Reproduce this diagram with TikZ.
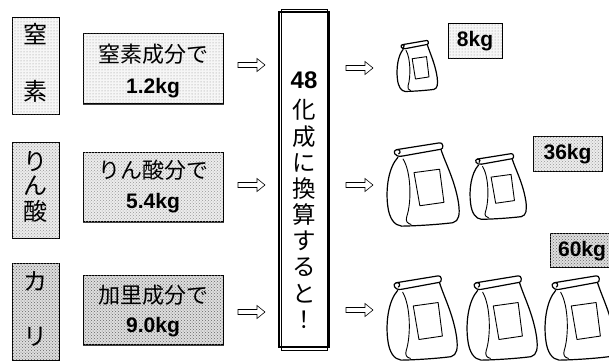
\documentclass[tikz,border=0pt]{standalone}
\usepackage{fontspec}
\usetikzlibrary{patterns}
\setmainfont{Liberation Sans}
\newfontfamily\jp{Noto Sans CJK JP}
\definecolor{tintA}{RGB}{246,246,246}
\definecolor{tintB}{RGB}{236,236,236}
\definecolor{tintC}{RGB}{222,222,222}
\begin{document}
\begin{tikzpicture}[x=1pt,y=-1pt,
  box/.style={draw=black, line width=0.8pt, inner sep=0pt},
  shadeA/.style={fill=tintA, postaction={pattern=dots, pattern color=black!45}},
  shadeB/.style={fill=tintB, postaction={pattern=crosshatch dots, pattern color=black!40}},
  shadeC/.style={fill=tintC, postaction={pattern=crosshatch dots, pattern color=black!60}},
  lifted/.style={preaction={draw=black!75, line width=1pt, transform canvas={shift={(0.8pt,-1pt)}}}},
  jtext/.style={font=\jp\fontsize{22}{26}\selectfont, inner sep=0pt},
  jside/.style={font=\jp\fontsize{24}{26}\selectfont, inner sep=0pt},
  jbig/.style={font=\jp\fontsize{23.5}{26}\selectfont, inner sep=0pt},
  num/.style={font=\bfseries\fontsize{21}{24}\selectfont, inner sep=0pt},
  hollow/.pic={\draw[line width=0.6pt, fill=white]
      (0,-2.5) -- (19,-2.5) -- (19,-6.5) -- (27,0) -- (19,6.5) -- (19,2.5) -- (0,2.5) -- cycle;},
  bag/.pic={
    \begin{scope}[line width=1.2pt, line cap=round, line join=round]
      % rolled top
      \draw (0.2,0.167) .. controls (0.1,0.18) and (0.07,0.1) .. (0.13,0.09)
            .. controls (0.17,0.08) and (0.2,0.12) .. (0.16,0.14);
      \draw (0.13,0.09) -- (0.72,0.01) .. controls (0.77,0.0) and (0.78,0.08) .. (0.74,0.085)
            -- (0.2,0.167);
      % body outline
      \draw (0.15,0.18) .. controls (0.02,0.3) and (-0.02,0.55) .. (0.01,0.75)
            .. controls (0.03,0.9) and (0.1,0.98) .. (0.2,0.99)
            .. controls (0.45,0.985) and (0.7,0.97) .. (0.9,0.95)
            .. controls (0.99,0.93) and (1.0,0.85) .. (0.98,0.72)
            .. controls (0.93,0.45) and (0.8,0.25) .. (0.74,0.09);
      % side fold
      \draw[line width=0.9pt] (0.22,0.2) .. controls (0.33,0.35) and (0.34,0.7) .. (0.27,0.88)
            .. controls (0.25,0.93) and (0.28,0.96) .. (0.33,0.97);
      % front label
      \draw[line width=0.9pt] (0.37,0.36) -- (0.72,0.32) -- (0.78,0.71) -- (0.45,0.75) -- cycle;
    \end{scope}}
  ]
\useasboundingbox (0,0) rectangle (609,361);

% element names on the left
\node[box, shadeA, minimum width=47, minimum height=97] (s1) at (35.5,65.5) {};
\node[box, shadeB, minimum width=47, minimum height=96] (s2) at (35.5,190) {};
\node[box, shadeC, minimum width=47, minimum height=97] (s3) at (35.5,312) {};
\node[jside] (s1a) at (35.5,34) {窒};
\node[jside] (s1b) at (35.5,91) {素};
\node[jside] (s2a) at (35.5,162) {り};
\node[jside] (s2b) at (35.5,186) {ん};
\node[jside] (s2c) at (35.5,211) {酸};
\node[jside] (s3a) at (35.5,281) {カ};
\node[jside] (s3b) at (35.5,337) {リ};

% component amounts
\node[box, lifted, shadeA, minimum width=140, minimum height=70] (m1) at (153,68) {};
\node[box, lifted, shadeB, minimum width=140, minimum height=69] (m2) at (153,186.5) {};
\node[box, lifted, shadeC, minimum width=140, minimum height=69] (m3) at (153,309.5) {};
\node[jtext] (m1a) at (153,54) {窒素成分で};
\node[num]   (m1b) at (153,88) {1.2kg};
\node[jtext] (m2a) at (153,170) {りん酸分で};
\node[num]   (m2b) at (153,203) {5.4kg};
\node[jtext] (m3a) at (153,295) {加里成分で};
\node[num]   (m3b) at (153,327) {9.0kg};

% central conversion column
\node[draw=black, line width=1.3pt, minimum width=50, minimum height=335, inner sep=0pt] (c) at (304,179.5) {};
\draw[line width=0.5pt] ([shift={(2.5,-2.5)}]c.north west) rectangle ([shift={(-2.5,2.5)}]c.south east);
\node[font=\bfseries\fontsize{24}{26}\selectfont, inner sep=0pt] (c0) at (304,80) {48};
\foreach \ch [count=\i] in {化,成,に,換,算,す,る,と,！}
  \node[jbig] (c\i) at (304,{83.75+26.25*\i}) {\ch};

% hollow arrows
\pic at (238,65) {hollow};
\pic at (238,185) {hollow};
\pic at (238,312) {hollow};
\pic at (346,68) {hollow};
\pic at (346,185) {hollow};
\pic at (346,310) {hollow};

% bags
\pic[xscale=41, yscale=52] at (397,40) {bag};
\pic[xscale=73, yscale=85] at (387,142) {bag};
\pic[xscale=57, yscale=67] at (470,153) {bag};
\pic[xscale=71, yscale=86] at (387,275) {bag};
\pic[xscale=71, yscale=86] at (467,275) {bag};
\pic[xscale=71, yscale=86] at (545,275) {bag};

% resulting weights
\node[box, shadeA, minimum width=54, minimum height=35] (k1) at (475,40.5) {};
\node[box, shadeB, minimum width=69, minimum height=35] (k2) at (567.5,153.5) {};
\node[box, shadeC, minimum width=68, minimum height=34] (k3) at (584,250) {};
\node[num] (k1t) at (475,41) {8kg};
\node[num] (k2t) at (567.5,154) {36kg};
\node[num] (k3t) at (582,251) {60kg};
\end{tikzpicture}
\end{document}
